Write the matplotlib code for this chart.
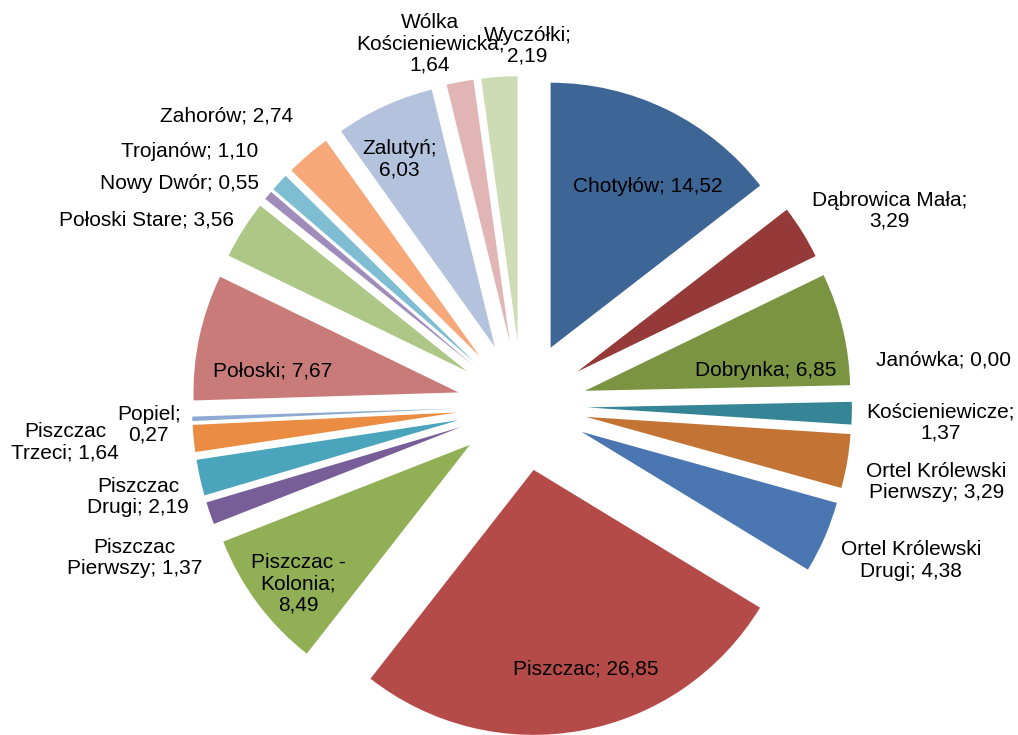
import numpy as np
import matplotlib
matplotlib.use("Agg")
import matplotlib.pyplot as plt

# Dane
nazwy = ["Chotyłów", "Dąbrowica Mała", "Dobrynka", "Janówka", "Kościeniewicze",
         "Ortel Królewski\nPierwszy", "Ortel Królewski\nDrugi", "Piszczac",
         "Piszczac -\nKolonia", "Piszczac\nPierwszy", "Piszczac\nDrugi",
         "Piszczac\nTrzeci", "Popiel", "Połoski", "Połoski Stare", "Nowy Dwór",
         "Trojanów", "Zahorów", "Zalutyń", "Wólka\nKościeniewicka", "Wyczółki"]
wartosci = [14.52, 3.29, 6.85, 0.00, 1.37, 3.29, 4.38, 26.85, 8.49, 1.37, 2.19,
            1.64, 0.27, 7.67, 3.56, 0.55, 1.10, 2.74, 6.03, 1.64, 2.19]
separator = ["; ", ";\n", "; ", "; ", ";\n", "; ", "; ", "; ", ";\n", "; ", "; ",
             "; ", ";\n", "; ", "; ", "; ", "; ", "; ", ";\n", ";\n", ";\n"]

kolory = ["#3D6596", "#953A38", "#7A9441", "#5F497A", "#358597", "#C37435",
          "#4A77B1", "#B44B48", "#91AF55", "#775E98", "#4AA5BC", "#EA8C41",
          "#8EA9D4", "#C97B79", "#ADC786", "#A08CBA", "#7EBDD2", "#F7A878",
          "#B3C3DE", "#E0B5B4", "#CEDCB6"]

# Położenie etykiet: przesunięcie kątowe (stopnie) i promień
etyk_kat = [3.7, 3.8, 5.2, -5.0, 1.0, 0.8, -1.8, -3.2, -1.8, -2.5, -0.8,
            1.1, -0.65, -4.0, -5.9, -6.7, -5.2, -5.1, -1.7, -3.4, 4.8]
etyk_r = [0.957, 1.57, 0.93, 1.60, 1.58, 1.59, 1.58, 1.02, 1.08, 1.57, 1.49,
          1.73, 1.41, 0.95, 1.58, 1.54, 1.58, 1.56, 1.04, 1.41, 1.36]

plt.rcParams['font.family'] = ['Liberation Sans', 'DejaVu Sans']

W, H = 1018, 735
cx, cy, R = 522, 406, 265
fig = plt.figure(figsize=(W / 100, H / 100), dpi=100)
ax = fig.add_axes([0, 0, 1, 1])

ax.pie(wartosci, colors=kolory, startangle=90, counterclock=False,
       explode=[0.245] * len(wartosci), radius=1,
       wedgeprops=dict(linewidth=0))

ax.set_aspect('auto')
ax.set_xlim(-cx / R, (W - cx) / R)
ax.set_ylim(-(H - cy) / R, cy / R)
ax.axis('off')

suma = sum(wartosci)
kum = np.cumsum([0] + wartosci)
for i, (n, v) in enumerate(zip(nazwy, wartosci)):
    srodek = (kum[i] + v / 2) / suma * 360 + etyk_kat[i]
    a = np.deg2rad(srodek)
    x = etyk_r[i] * np.sin(a)
    y = etyk_r[i] * np.cos(a)
    tekst = n + separator[i] + f"{v:.2f}".replace(".", ",")
    ax.text(x, y, tekst, ha='center', va='center', fontsize=15,
            color='black', linespacing=1.15)

fig.savefig("out.png", dpi=100)
